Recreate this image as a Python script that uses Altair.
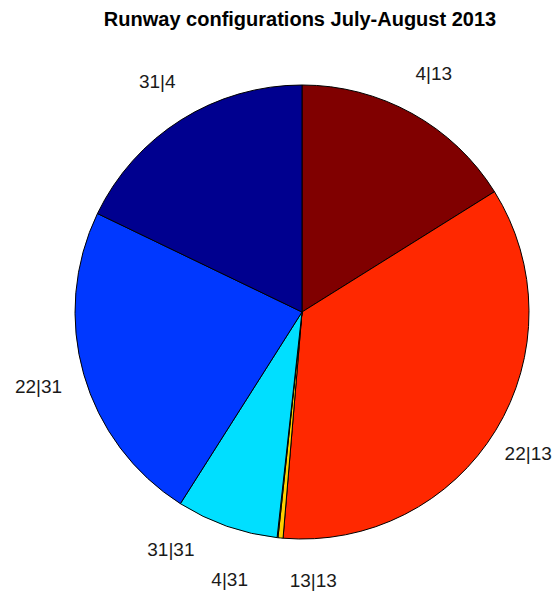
import altair as alt
import pandas as pd

# Slices in clockwise order starting at 12 o'clock
labels = ["4|13", "22|13", "13|13", "4|31", "31|31", "22|31", "31|4"]
shares = [16.11, 35.22, 0.36, 0.06, 7.25, 23.14, 17.86]
colors = ["#800000", "#FF2800", "#FFCF00", "#88FF78", "#00DFFF", "#0038FF", "#00008F"]
title_text = ["Runway configurations July-August 2013"]

df = pd.DataFrame({"label": labels, "value": shares, "idx": list(range(len(labels)))})
total = sum(shares)

CX, CY = 294, 304
R = 227
RL = 272

base = alt.Chart(df)

arcs = base.mark_arc(radius=R, stroke="black", strokeWidth=1).encode(
    x=alt.value(CX),
    y=alt.value(CY),
    theta=alt.Theta("value:Q", stack=True, scale=alt.Scale(domain=[0, total])),
    order=alt.Order("idx:Q"),
    color=alt.Color("label:N", scale=alt.Scale(domain=labels, range=colors), legend=None),
)

txt_base = base.transform_window(
    cum="sum(value)", sort=[alt.SortField("idx")], frame=[None, 0]
).transform_calculate(mid="datum.cum - datum.value / 2")

def label_layer(names, dx=0, dy=0):
    return txt_base.transform_filter(
        alt.FieldOneOfPredicate(field="label", oneOf=names)
    ).mark_text(
        radius=RL, fontSize=19, font="Liberation Sans", color="#1a1a1a",
        align="center", baseline="middle", dx=dx, dy=dy
    ).encode(
        x=alt.value(CX),
        y=alt.value(CY),
        theta=alt.Theta("mid:Q", stack=None, scale=alt.Scale(domain=[0, total])),
        text="label:N",
    )

title = alt.Chart(pd.DataFrame({"t": title_text})).mark_text(
    fontSize=20, fontWeight="bold", font="Liberation Sans", color="black",
    align="center", baseline="alphabetic"
).encode(x=alt.value(CX - 2), y=alt.value(18), text="t:N")

chart = alt.layer(
    arcs,
    label_layer(["4|13", "31|4"]),
    label_layer(["22|31"], dx=-2),
    label_layer(["22|13"], dx=-6),
    label_layer(["31|31"], dx=-41, dy=-19),
    label_layer(["4|31"], dx=-43, dy=-2),
    label_layer(["13|13"], dx=37, dy=-2),
    title,
).resolve_scale(theta="independent").properties(
    width=544,
    height=583,
    padding=0,
    autosize=alt.AutoSizeParams(type="none"),
).configure_view(stroke=None)

chart.save("out.html", embed_options={"renderer": "svg", "actions": False})
